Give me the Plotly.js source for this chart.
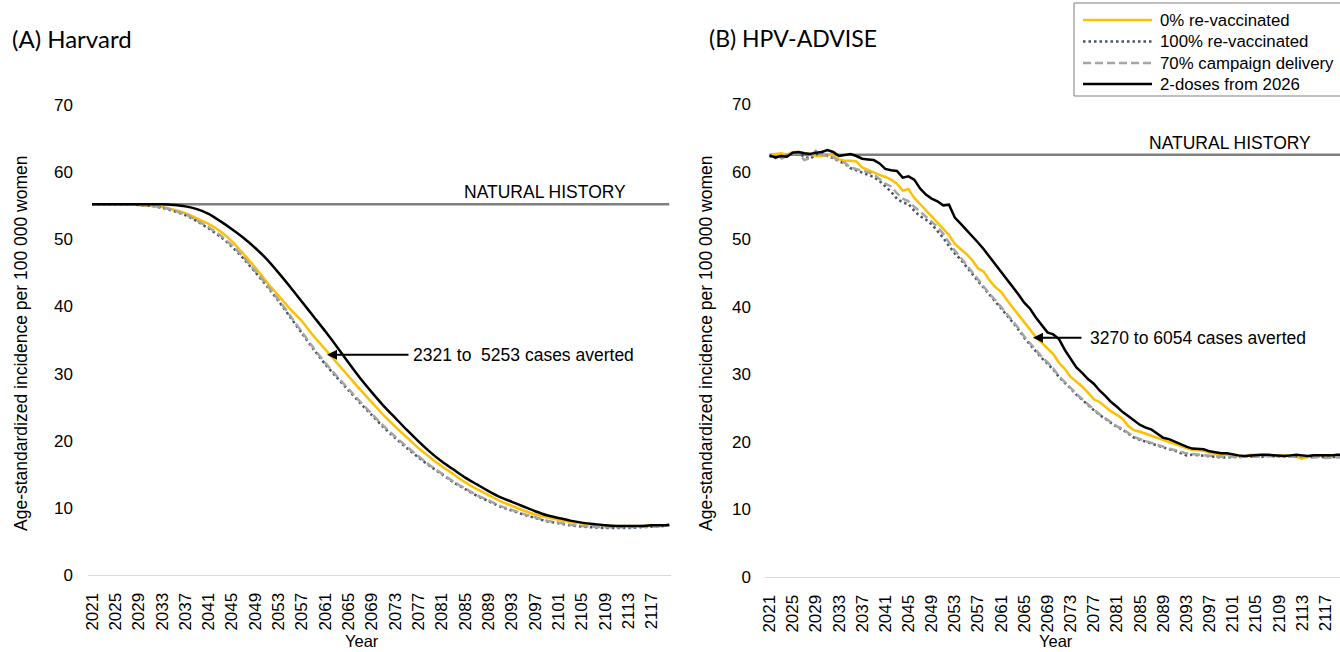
<!DOCTYPE html>
<html>
<head>
<meta charset="utf-8">
<script src="https://cdn.plot.ly/plotly-3.0.1.min.js"></script>
<style>html,body{margin:0;padding:0;background:#fff;}#chart{width:1340px;height:652px;}</style>
</head>
<body>
<div id="chart"></div>
<script>
// ---------- DATA ----------
const panelTitles = ['(A) Harvard', '(B) HPV-ADVISE'];
const seriesNames = ['0% re-vaccinated', '100% re-vaccinated', '70% campaign delivery', '2-doses from 2026'];
const naturalHistoryLabel = 'NATURAL HISTORY';
const averted = ['2321 to  5253 cases averted', '3270 to 6054 cases averted'];
const yTitle = 'Age-standardized incidence per 100 000 women';
const xTitle = 'Year';

// Panel A (Harvard)
const yearsA = [2021,2023,2025,2027,2029,2031,2033,2035,2037,2039,2041,2043,2045,2047,2049,2051,2053,2055,2057,2059,
  2061,2063,2065,2067,2069,2071,2073,2075,2077,2079,2081,2083,2085,2087,2089,2091,2093,2095,2097,2099,
  2101,2103,2105,2107,2109,2111,2113,2115,2117,2119,2120];
const naturalA = 55.2;
const zeroRevacA = [55.2,55.2,55.2,55.2,55.1,55.0,54.8,54.4,53.9,53.1,52.3,51.2,49.7,47.8,45.8,43.6,41.6,39.6,37.8,35.6,
  33.6,31.6,29.6,27.6,25.7,23.8,22.1,20.5,18.9,17.5,16.2,15.0,13.8,12.8,11.9,11.0,10.3,9.6,9.0,8.6,
  8.2,7.9,7.7,7.5,7.4,7.3,7.3,7.3,7.4,7.4,7.5];
const fullRevacA = [55.2,55.2,55.2,55.2,55.1,55.0,54.7,54.2,53.6,52.7,51.6,50.4,48.9,47.1,45.1,43.0,40.8,38.4,36.0,33.6,
  31.4,29.4,27.5,25.6,23.8,22.0,20.4,18.9,17.5,16.2,15.0,13.8,12.8,11.8,11.0,10.2,9.6,9.0,8.5,8.0,
  7.7,7.4,7.2,7.1,7.0,7.0,7.0,7.1,7.2,7.3,7.4];
const campaignA = [55.2,55.2,55.2,55.2,55.1,55.0,54.8,54.3,53.7,52.8,51.8,50.6,49.1,47.3,45.3,43.2,41.0,38.6,36.2,33.8,
  31.6,29.6,27.7,25.8,24.0,22.2,20.6,19.1,17.7,16.3,15.1,13.9,12.9,11.9,11.1,10.3,9.7,9.1,8.6,8.1,
  7.8,7.5,7.3,7.2,7.1,7.1,7.1,7.2,7.2,7.3,7.4];
const twoDoseA = [55.2,55.2,55.2,55.2,55.2,55.2,55.2,55.1,54.9,54.5,53.8,52.7,51.5,50.2,48.7,47.0,45.0,42.9,40.7,38.5,
  36.3,34.0,31.6,29.3,27.2,25.2,23.4,21.6,19.9,18.3,16.9,15.7,14.5,13.5,12.5,11.6,10.9,10.2,9.5,8.9,
  8.5,8.1,7.8,7.6,7.4,7.3,7.3,7.3,7.4,7.4,7.5];

// Panel B (HPV-ADVISE)
const yearsB = [2021,2022,2023,2024,2025,2026,2027,2028,2029,2030,2031,2032,2033,2034,2035,2036,2037,2038,2039,2040,
  2041,2042,2043,2044,2045,2046,2047,2048,2049,2050,2051,2052,2053,2054,2055,2056,2057,2058,2059,2060,
  2061,2062,2063,2064,2065,2066,2067,2068,2069,2070,2071,2072,2073,2074,2075,2076,2077,2078,2079,2080,
  2081,2082,2083,2084,2085,2086,2087,2088,2089,2090,2091,2092,2093,2094,2095,2096,2097,2098,2099,2100,
  2101,2102,2103,2104,2105,2106,2107,2108,2109,2110,2111,2112,2113,2114,2115,2116,2117,2118,2119,2120];
const naturalB = 62.5;
const zeroRevacB = [62.5,62.6,62.7,62.5,62.9,62.9,62.8,62.6,62.3,62.3,
  62.5,62.4,61.8,61.6,61.6,61.5,60.6,60.2,59.9,59.5,
  59.2,58.8,58.2,57.2,57.4,56.1,55.2,54.3,53.3,52.5,
  51.6,50.6,49.3,48.6,47.8,46.9,45.7,45.2,43.9,42.9,
  42.2,41.0,39.9,38.7,37.6,36.6,35.5,34.7,33.8,33.0,
  31.7,30.8,29.6,28.9,28.2,27.3,26.3,25.9,25.2,24.5,
  24.0,23.4,22.3,21.7,21.5,21.2,20.8,20.5,20.2,20.0,
  19.7,19.4,19.0,18.8,18.8,18.7,18.4,18.2,18.1,18.1,
  18.0,17.9,17.8,18.1,18.1,18.0,18.1,18.0,17.9,18.0,
  17.9,17.8,17.5,17.8,17.8,18.0,17.8,17.9,17.8,17.8];
const fullRevacB = [62.3,62.0,62.1,62.4,62.7,62.6,62.3,61.9,62.5,62.8,
  62.3,62.0,61.5,61.2,60.5,60.2,59.8,59.5,59.2,58.6,
  57.8,57.0,56.0,55.4,55.2,54.2,53.4,52.9,52.2,51.2,
  50.2,49.0,47.9,47.0,45.9,44.8,43.8,42.8,41.8,40.8,
  39.8,38.8,37.7,36.6,35.4,34.4,33.4,32.4,31.6,30.7,
  29.6,28.8,27.9,27.0,26.2,25.4,24.7,24.0,23.4,22.8,
  22.2,21.8,21.2,20.6,20.3,20.0,19.8,19.5,19.2,18.9,
  18.7,18.4,18.0,18.1,18.0,18.0,17.9,17.8,17.7,17.7,
  17.7,17.8,17.7,17.8,17.9,17.8,17.9,17.9,17.8,17.8,
  17.8,17.9,17.9,17.8,17.7,17.8,17.7,17.7,17.8,17.8];
const campaignB = [62.4,62.2,61.9,62.3,62.6,62.7,61.7,62.0,63.1,62.5,
  62.3,62.1,61.6,61.3,60.6,60.4,60.2,59.9,59.6,58.9,
  58.2,57.8,56.8,56.0,55.6,54.8,54.1,53.3,52.6,51.8,
  50.8,49.5,48.3,47.3,46.2,45.1,44.0,43.0,41.9,41.0,
  40.0,39.0,37.9,36.8,35.6,34.6,33.6,32.6,31.8,30.9,
  29.7,28.9,28.0,27.1,26.3,25.5,24.8,24.1,23.5,22.9,
  22.3,21.9,21.3,20.7,20.4,20.1,19.9,19.6,19.3,19.0,
  18.8,18.5,18.3,18.2,18.1,18.1,17.9,17.8,17.7,17.7,
  17.8,17.8,17.7,17.8,17.8,17.9,17.9,17.9,17.8,17.8,
  17.8,17.9,17.9,17.8,17.7,17.8,17.6,17.7,17.7,17.7];
const twoDoseB = [62.4,62.1,62.3,62.2,62.8,62.9,62.7,62.6,62.8,62.9,
  63.2,62.9,62.3,62.5,62.6,62.3,61.9,61.8,61.7,61.2,
  60.4,60.2,60.1,59.1,59.3,58.8,57.5,56.6,56.0,55.6,
  55.0,55.1,53.2,52.3,51.4,50.4,49.5,48.5,47.4,46.3,
  45.2,44.1,43.0,41.8,40.6,39.7,38.4,37.3,36.2,35.9,
  35.2,33.6,32.3,31.0,30.2,29.3,28.6,27.6,26.8,25.9,
  25.2,24.4,23.8,23.1,22.5,22.1,21.8,21.2,20.6,20.4,
  20.0,19.7,19.3,19.0,19.0,18.9,18.6,18.4,18.3,18.3,
  18.1,18.0,17.9,18.0,18.0,18.1,18.1,18.0,18.0,17.9,
  18.0,18.1,18.0,17.9,18.0,18.0,17.9,18.0,18.1,18.1];

// Arrow annotation anchor points (year, value) where the arrow touches the curves
const arrowA = [2061.3, 32.8];
const arrowB = [2066.5, 35.4];

// ---------- STYLE ----------
const W = 1340, H = 652;
const px = v => v / W;
const py = v => 1 - v / H;
const FONT = 'Liberation Sans, Arial, Helvetica, sans-serif';
const styles = [
  {color: '#FFC000', dash: 'solid', width: 2.5},
  {color: '#44546A', dash: '2.5px,3px', width: 2.5},
  {color: '#A5A5A5', dash: '8px,4px', width: 2.5},
  {color: '#000000', dash: 'solid', width: 2.5}
];
const drawOrder = [0, 1, 2, 3];

function panelTraces(years, natural, series, xa, ya, shape) {
  const tr = [];
  tr.push({x: [years[0], years[years.length - 1]], y: [natural, natural], xaxis: xa, yaxis: ya,
    mode: 'lines', line: {color: '#7F7F7F', width: 2.5}, hoverinfo: 'skip', showlegend: false});
  drawOrder.forEach(i => {
    tr.push({x: years, y: series[i], xaxis: xa, yaxis: ya, mode: 'lines', name: seriesNames[i],
      line: {color: styles[i].color, dash: styles[i].dash, width: styles[i].width, shape: shape, smoothing: 0.7},
      hoverinfo: 'skip', showlegend: false});
  });
  return tr;
}

const traces = [].concat(
  panelTraces(yearsA, naturalA, [zeroRevacA, fullRevacA, campaignA, twoDoseA], 'x', 'y', 'spline'),
  panelTraces(yearsB, naturalB, [zeroRevacB, fullRevacB, campaignB, twoDoseB], 'x2', 'y2', 'linear')
);

const xCommon = {tickmode: 'linear', tick0: 2021, dtick: 4, tickangle: -90, showgrid: false, zeroline: false,
  showline: true, linecolor: '#D9D9D9', linewidth: 1, ticks: '', tickfont: {family: FONT, size: 17, color: '#000'},
  ticklabelstandoff: 10, fixedrange: true};
const yCommon = {range: [0, 70], tickmode: 'linear', tick0: 0, dtick: 10, showgrid: false, zeroline: false,
  showline: false, ticks: '', tickfont: {family: FONT, size: 17, color: '#000'}, fixedrange: true};

const annotations = [];
const txt = (text, x, y, opts) => Object.assign({text: text, x: x, y: y, xref: 'paper', yref: 'paper',
  showarrow: false, font: {family: FONT, size: 17.5, color: '#000'}, xanchor: 'center', yanchor: 'middle'}, opts || {});

// panel titles
annotations.push(txt(panelTitles[0], px(10), py(38), {xanchor: 'left', font: {family: 'Lato, Carlito, sans-serif', size: 24, color: '#000'}}));
annotations.push(txt(panelTitles[1], px(707), py(38), {xanchor: 'left', font: {family: 'Lato, Carlito, sans-serif', size: 23, color: '#000'}}));
// y titles
annotations.push(txt(yTitle, px(21), py(343), {textangle: -90}));
annotations.push(txt(yTitle, px(706), py(343), {textangle: -90}));
// x titles
annotations.push(txt(xTitle, px(362), py(651), {yanchor: 'bottom', borderpad: 0, font: {family: FONT, size: 16.5, color: '#000'}}));
annotations.push(txt(xTitle, px(1056), py(651), {yanchor: 'bottom', borderpad: 0, font: {family: FONT, size: 16.5, color: '#000'}}));
// natural history labels
annotations.push(txt(naturalHistoryLabel, px(628), py(192), {xanchor: 'right'}));
annotations.push(txt(naturalHistoryLabel, px(1313), py(143), {xanchor: 'right'}));
// arrows
annotations.push({x: arrowA[0], y: arrowA[1], xref: 'x', yref: 'y', text: '', showarrow: true,
  arrowhead: 2, arrowsize: 1, arrowwidth: 2, arrowcolor: '#000', ax: 83, ay: 0});
annotations.push({x: arrowB[0], y: arrowB[1], xref: 'x2', yref: 'y2', text: '', showarrow: true,
  arrowhead: 2, arrowsize: 1, arrowwidth: 2, arrowcolor: '#000', ax: 50, ay: 0});
annotations.push(txt(averted[0], px(411), py(355), {xanchor: 'left'}));
annotations.push(txt(averted[1], px(1088), py(338), {xanchor: 'left'}));

// custom legend
const shapes = [{type: 'rect', xref: 'paper', yref: 'paper', x0: px(1074), x1: px(1380), y0: py(96), y1: py(3),
  line: {color: '#7F7F7F', width: 1}, fillcolor: 'rgba(255,255,255,0)'}];
const legendRows = [20, 41.5, 63, 84];
seriesNames.forEach((name, i) => {
  shapes.push({type: 'line', xref: 'paper', yref: 'paper', x0: px(1083), x1: px(1152), y0: py(legendRows[i]), y1: py(legendRows[i]),
    line: {color: styles[i].color, dash: styles[i].dash, width: styles[i].width}});
  annotations.push(txt(name, px(1159), py(legendRows[i]), {xanchor: 'left', borderpad: 0,
    font: {family: FONT, size: 16.8, color: '#000'}}));
});

const layout = {
  width: W, height: H, margin: {l: 0, r: 0, t: 0, b: 0, pad: 0},
  paper_bgcolor: '#fff', plot_bgcolor: '#fff', showlegend: false,
  font: {family: FONT, color: '#000'},
  xaxis: Object.assign({}, xCommon, {domain: [px(88), px(671)], range: [2020.31, 2120.3], anchor: 'y'}),
  yaxis: Object.assign({}, yCommon, {domain: [77 / H, 547 / H], anchor: 'x', ticklabelstandoff: 14}),
  xaxis2: Object.assign({}, xCommon, {domain: [px(765), 1], range: [2020.22, 2119.53], anchor: 'y2'}),
  yaxis2: Object.assign({}, yCommon, {domain: [75 / H, 548 / H], anchor: 'x2', ticklabelstandoff: 13}),
  annotations: annotations,
  shapes: shapes
};

Plotly.newPlot('chart', traces, layout, {displayModeBar: false, staticPlot: true});
</script>
</body>
</html>
